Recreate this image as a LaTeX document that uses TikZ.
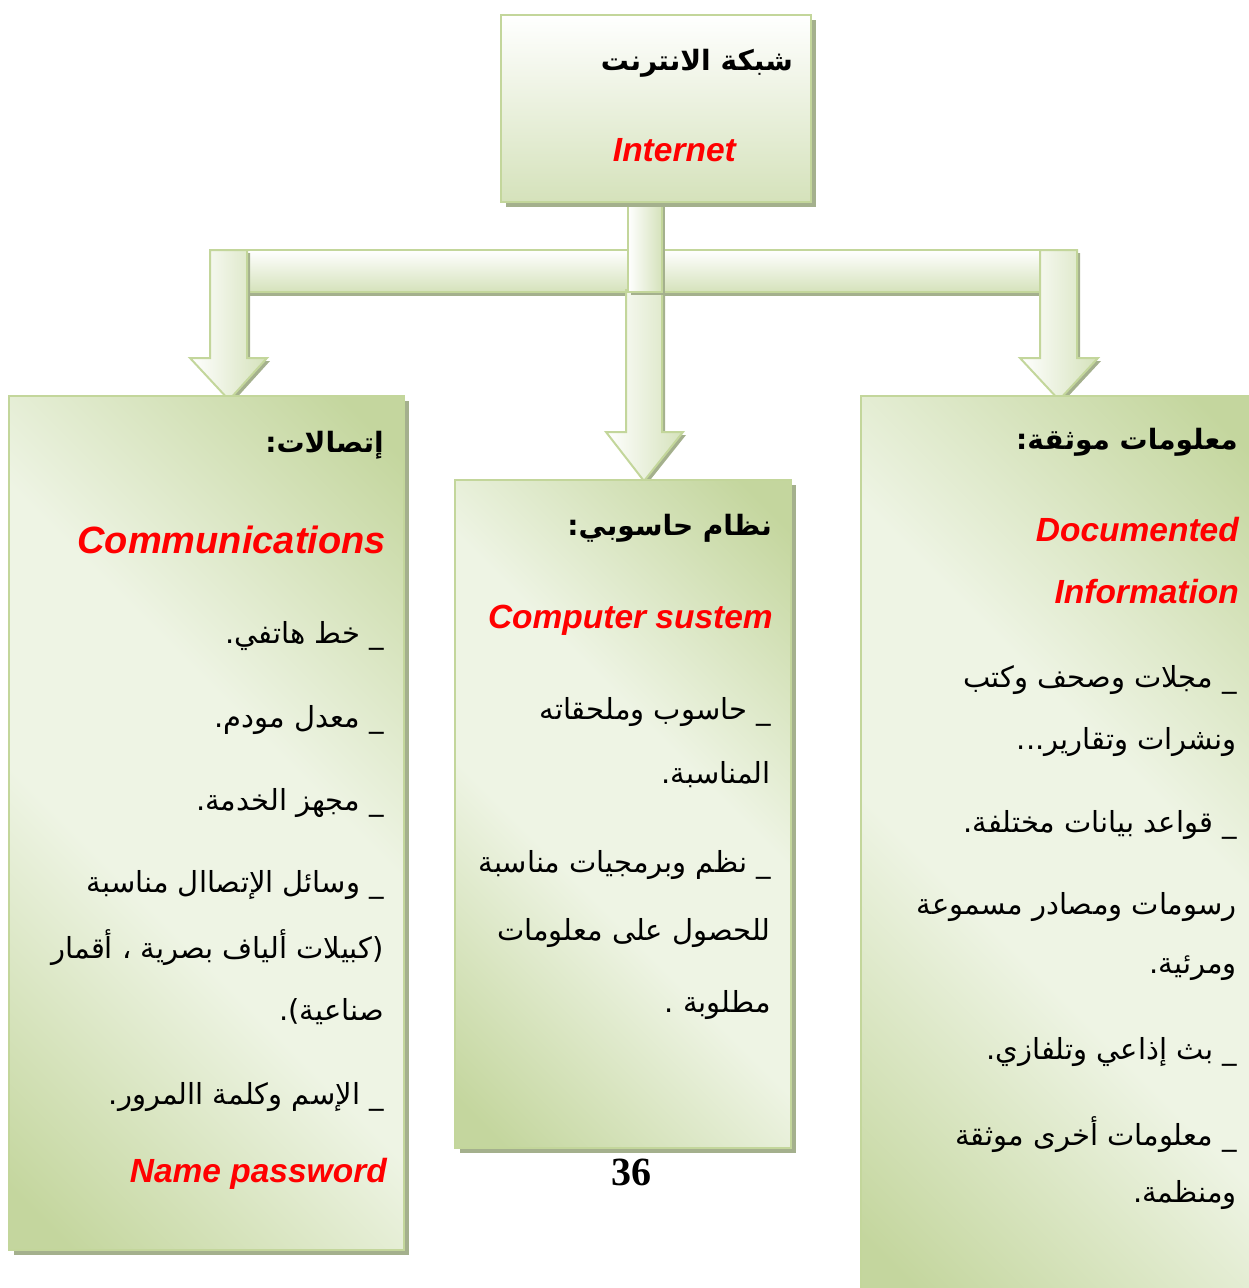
\documentclass[tikz,border=0pt]{standalone}
\usepackage{fontspec}
\newfontfamily\arabicfont[Script=Arabic]{DejaVu Sans}
\newfontfamily\engfont{Liberation Sans}
\newfontfamily\numfont{Liberation Serif}
\TeXXeTstate=1
\usetikzlibrary{shadows}

\definecolor{boxborder}{HTML}{C3D69B}
\definecolor{shadowc}{HTML}{A4B08D}
\definecolor{boxlight}{HTML}{EEF4E4}
\definecolor{boxdark}{HTML}{C4D69E}
\definecolor{barg}{HTML}{D5E2BB}
\definecolor{engred}{HTML}{FF0000}

\pgfdeclarehorizontalshading{boxband}{100bp}{color(0bp)=(boxdark); color(18bp)=(boxdark); color(42bp)=(boxlight); color(58bp)=(boxlight); color(82bp)=(boxdark); color(100bp)=(boxdark)}

\newcommand{\artext}[1]{\beginR #1\endR}

\begin{document}
\begin{tikzpicture}[x=1pt,y=-1pt,
  shadowed/.style={drop shadow={shadow xshift=5pt,shadow yshift=-5pt,fill=shadowc,opacity=1}},
  box/.style={draw=boxborder,line width=2.5pt,shading=boxband,shading angle=45,shadowed,inner sep=0pt},
  topbox/.style={draw=boxborder,line width=2.5pt,top color=white,bottom color=barg,shadowed,inner sep=0pt},
  bar/.style={draw=boxborder,line width=2pt,top color=white,bottom color=barg,drop shadow={shadow xshift=3pt,shadow yshift=-4pt,fill=shadowc,opacity=1}},
  stem/.style={draw=boxborder,line width=2pt,left color=white,right color=barg,drop shadow={shadow xshift=3pt,shadow yshift=-3pt,fill=shadowc,opacity=1}},
  arhead/.style={anchor=east,inner sep=0pt,font=\arabicfont\bfseries\fontsize{28}{33}\selectfont},
  arline/.style={anchor=east,inner sep=0pt,font=\arabicfont\fontsize{29}{35}\selectfont},
  engline/.style={anchor=east,inner sep=0pt,text=engred,font=\engfont\bfseries\itshape\fontsize{33.5}{40}\selectfont}]
\useasboundingbox (0,0) rectangle (1249,1288);

% connectors
\draw[bar] (228,250) rectangle (1058,292);
\draw[stem] (210,250) -- (247,250) -- (247,358) -- (267,358) -- (229,400) -- (190,358) -- (210,358) -- cycle;
\draw[stem] (1040,250) -- (1077,250) -- (1077,358) -- (1098,358) -- (1059,400) -- (1020,358) -- (1040,358) -- cycle;
\draw[stem] (626,290) -- (662,290) -- (662,432) -- (683,432) -- (644,481) -- (606,432) -- (626,432) -- cycle;
\draw[stem] (628,200) rectangle (662,292);

% boxes
\node[topbox,minimum width=310,minimum height=187] (net) at (656,108.5) {};
\node[box,minimum width=395,minimum height=854] (comm) at (206.5,823) {};
\node[box,minimum width=336,minimum height=668] (comp) at (623,814) {};
\node[box,minimum width=399,minimum height=904] (info) at (1060.5,848) {};

% top box
\node[arhead] (netT) at (793,63) {\artext{شبكة الانترنت}};
\node[engline] (netE) at (736,150) {Internet};

% left box
\node[arhead] (commT) at (384,445) {\artext{إتصالات:}};
\node[engline,font=\engfont\bfseries\itshape\fontsize{38}{44}\selectfont] (commE) at (386,540) {Communications};
\node[arline] (comm1) at (384,636) {\artext{\_ خط هاتفي.}};
\node[arline] (comm2) at (384,720) {\artext{\_ معدل مودم.}};
\node[arline] (comm3) at (384,803) {\artext{\_ مجهز الخدمة.}};
\node[arline] (comm4) at (384,885) {\artext{\_ وسائل الإتصاال مناسبة}};
\node[arline] (comm5) at (384,948) {\artext{\beginL(\endL كبيلات ألياف بصرية ، أقمار}};
\node[arline] (comm6) at (384,1012) {\artext{صناعية\beginL)\endL.}};
\node[arline] (comm7) at (384,1097) {\artext{\_ الإسم وكلمة االمرور.}};
\node[engline] (commN) at (387,1174) {Name password};

% center box
\node[arhead] (compT) at (772,528) {\artext{نظام حاسوبي:}};
\node[engline] (compE) at (773,620) {Computer sustem};
\node[arline] (comp1) at (771,712) {\artext{\_ حاسوب وملحقاته}};
\node[arline] (comp2) at (771,775) {\artext{المناسبة.}};
\node[arline] (comp3) at (771,865) {\artext{\_ نظم وبرمجيات مناسبة}};
\node[arline] (comp4) at (771,933) {\artext{للحصول على معلومات}};
\node[arline] (comp5) at (771,1005) {\artext{مطلوبة .}};

% right box
\node[arhead] (infoT) at (1238,442) {\artext{معلومات موثقة:}};
\node[engline] (infoE1) at (1239,530) {Documented};
\node[engline] (infoE2) at (1239,592) {Information};
\node[arline] (info1) at (1237,680) {\artext{\_ مجلات وصحف وكتب}};
\node[arline] (info2) at (1237,742) {\artext{ونشرات وتقارير...}};
\node[arline] (info3) at (1237,825) {\artext{\_ قواعد بيانات مختلفة.}};
\node[arline] (info4) at (1237,907) {\artext{رسومات ومصادر مسموعة}};
\node[arline] (info5) at (1237,968) {\artext{ومرئية.}};
\node[arline] (info6) at (1237,1052) {\artext{\_ بث إذاعي وتلفازي.}};
\node[arline] (info7) at (1237,1135) {\artext{\_ معلومات أخرى موثقة}};
\node[arline] (info8) at (1237,1195) {\artext{ومنظمة.}};

% page number
\node[font=\numfont\bfseries\fontsize{40}{44}\selectfont,inner sep=0pt] (page) at (631,1172) {36};
\end{tikzpicture}
\end{document}
